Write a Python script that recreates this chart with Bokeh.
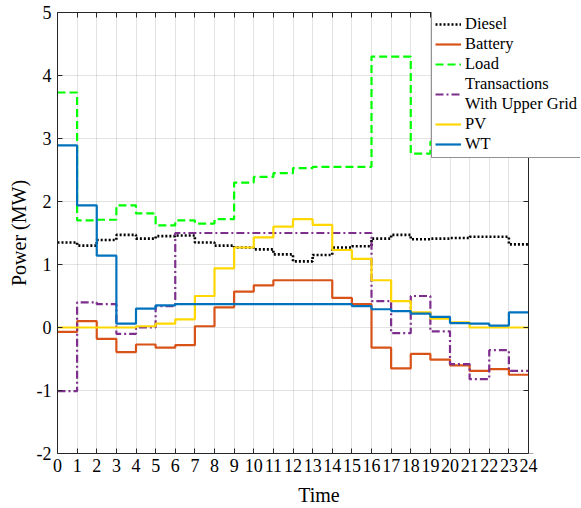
from bokeh.plotting import figure
from bokeh.models import (Legend, LegendItem, LinearAxis, FixedTicker, Range1d,
                          BoxAnnotation, Span)
from bokeh.embed import file_html
from bokeh.resources import INLINE

# Hourly dispatch (MW), one value per hour 0..23
hours = list(range(25))
diesel = [1.35, 1.30, 1.39, 1.47, 1.41, 1.45, 1.46, 1.35, 1.30, 1.27, 1.24, 1.16,
          1.05, 1.15, 1.27, 1.29, 1.41, 1.47, 1.40, 1.41, 1.42, 1.44, 1.44, 1.32]
battery = [-0.07, 0.10, -0.18, -0.39, -0.27, -0.32, -0.28, 0.02, 0.32, 0.57, 0.67, 0.75,
           0.75, 0.75, 0.47, 0.37, -0.32, -0.65, -0.42, -0.51, -0.60, -0.69, -0.66, -0.75]
load = [3.73, 1.70, 1.71, 1.94, 1.81, 1.62, 1.70, 1.65, 1.72, 2.30, 2.39, 2.45,
        2.53, 2.55, 2.55, 2.55, 4.30, 4.30, 2.76, 2.95, 3.05, 3.00, 2.90, 2.85]
transactions = [-1.01, 0.40, 0.37, -0.10, 0.00, 0.34, 1.50, 1.50, 1.50, 1.50, 1.50, 1.50,
                1.50, 1.50, 1.50, 1.50, 0.42, -0.09, 0.50, -0.06, -0.58, -0.82, -0.36, -0.69]
pv = [0.00, 0.00, 0.00, 0.00, 0.02, 0.06, 0.13, 0.50, 0.94, 1.27, 1.43, 1.60,
      1.72, 1.63, 1.23, 1.09, 0.75, 0.42, 0.24, 0.14, 0.08, 0.00, 0.00, 0.00]
wt = [2.89, 1.94, 1.14, 0.06, 0.30, 0.35, 0.37, 0.37, 0.37, 0.37, 0.37, 0.37,
      0.37, 0.37, 0.37, 0.34, 0.29, 0.26, 0.22, 0.17, 0.07, 0.06, 0.03, 0.24]

x_ticks = list(range(25))
y_ticks = [-2, -1, 0, 1, 2, 3, 4, 5]
X_MAX = 24
Y_MIN, Y_MAX = -2, 5

FONT = "Liberation Serif"
AX = "#262626"

# The frame runs on past x = 24 so the legend can stick out to the right of the
# axes box; that extra strip is painted white and the box is closed at x = 24.
AXES_PX = 471
FRAME_PX = 523
p = figure(width=581, height=508,
           x_range=Range1d(0, X_MAX * FRAME_PX / AXES_PX), y_range=Range1d(Y_MIN, Y_MAX),
           output_backend="svg", toolbar_location=None,
           min_border_left=57, min_border_right=1, min_border_top=12, min_border_bottom=55)
p.background_fill_color = "white"
p.border_fill_color = "white"
p.outline_line_color = None

def stairs(vals):
    return vals + [vals[-1]]

series = [
    ("Diesel", diesel, dict(line_color="black", line_dash="2 2", line_width=2.6)),
    ("Battery", battery, dict(line_color="#D95319", line_width=2.2)),
    ("Load", load, dict(line_color="#00FF00", line_dash="8 4", line_width=2.2)),
    ("Transactions\nWith Upper Grid", transactions,
     dict(line_color="#7E2F8E", line_dash="8 3 2 3", line_width=2.2)),
    ("PV", pv, dict(line_color="#FFD700", line_width=2.2)),
    ("WT", wt, dict(line_color="#0072BD", line_width=2.2)),
]

items = []
for label, vals, style in series:
    r = p.step(hours, stairs(vals), mode="after", **style)
    items.append(LegendItem(label=label, renderers=[r]))

# inward ticks along the right edge of the axes box
p.scatter([X_MAX] * len(y_ticks), y_ticks, marker="dash", size=10,
          line_color=AX, line_width=1)

# axes: ticks inside, limited to the 0..24 box
for ax in (p.xaxis[0], p.yaxis[0]):
    ax.major_tick_in = 5
    ax.major_tick_out = 0
    ax.minor_tick_line_color = None
    ax.axis_line_color = AX
    ax.major_tick_line_color = AX
    ax.major_label_text_font = FONT
    ax.major_label_text_font_size = "18px"
    ax.major_label_text_color = "black"
    ax.axis_label_text_font = FONT
    ax.axis_label_text_font_size = "20px"
    ax.axis_label_text_font_style = "normal"
    ax.axis_label_text_color = "black"

p.xaxis.bounds = (0, X_MAX)
p.xaxis.ticker = FixedTicker(ticks=x_ticks)
p.yaxis.ticker = FixedTicker(ticks=y_ticks)
p.xaxis.major_label_overrides = {t: str(t) for t in x_ticks}
p.yaxis.major_label_overrides = {t: str(t) for t in y_ticks}
p.xaxis.axis_label = "Time"
p.yaxis.axis_label = "Power (MW)"
p.xaxis.major_label_standoff = 5
p.yaxis.major_label_standoff = 6
p.xaxis.axis_label_standoff = 9
p.yaxis.axis_label_standoff = 4

top = LinearAxis(ticker=FixedTicker(ticks=x_ticks), bounds=(0, X_MAX),
                 major_tick_in=5, major_tick_out=0, minor_tick_line_color=None,
                 axis_line_color=AX, major_tick_line_color=AX,
                 major_label_text_color=None, major_label_text_font_size="1px",
                 major_label_standoff=0)
p.add_layout(top, "above")

p.xgrid.ticker = FixedTicker(ticks=x_ticks)
p.ygrid.ticker = FixedTicker(ticks=y_ticks)
p.grid.grid_line_color = "#262626"
p.grid.grid_line_alpha = 0.13
p.grid.grid_line_width = 1

# blank out the strip right of x = 24, then close the box there
p.add_layout(BoxAnnotation(left=X_MAX, fill_color="white", fill_alpha=1.0,
                           line_color=None, level="annotation"))
p.add_layout(Span(location=X_MAX, dimension="height", line_color=AX,
                  line_width=1, level="annotation"))

legend = Legend(items=items, location=(374, 295))
legend.label_text_font = FONT
legend.label_text_font_size = "16.5px"
legend.label_text_color = "black"
legend.label_text_line_height = 1.2
legend.label_height = 20
legend.glyph_height = 20
legend.glyph_width = 26
legend.label_standoff = 4
legend.spacing = 0
legend.padding = 3
legend.margin = 0
legend.border_line_color = AX
legend.border_line_width = 1
legend.background_fill_color = "white"
legend.background_fill_alpha = 1.0
p.add_layout(legend, "center")

open("out.html", "w").write(file_html(p, INLINE))
